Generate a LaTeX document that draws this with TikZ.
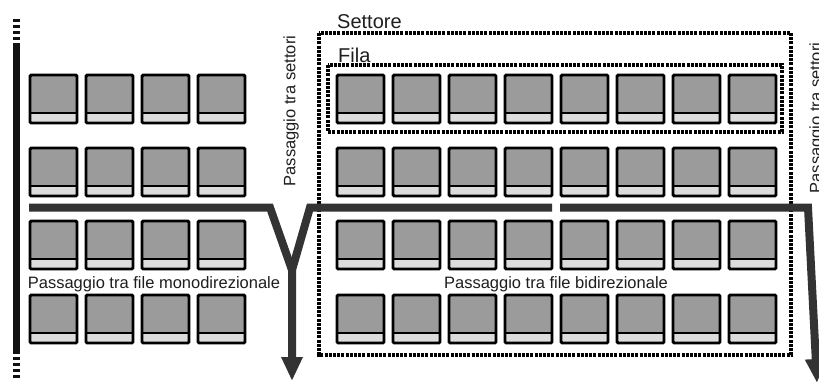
\documentclass[tikz,border=0pt]{standalone}
\usepackage{fontspec}
\setmainfont{Liberation Sans}
\usetikzlibrary{arrows.meta}
\definecolor{seatgray}{HTML}{9B9B9B}
\definecolor{seatlight}{HTML}{DCDCDC}
\definecolor{aisle}{HTML}{333333}
\definecolor{txt}{HTML}{1E1E1E}
\tikzset{
  seatfill/.style={fill=seatgray},
  seatstrip/.style={fill=seatlight},
  seatline/.style={draw=black,line width=2.9pt},
  zone/.style={draw=black,line width=3.3pt,dash pattern=on 3pt off 1.2pt},
  aislepath/.style={draw=aisle,line width=8pt},
  aislearrow/.style={draw=aisle,line width=8pt,-{Triangle[width=20pt,length=24pt]}},
  lbl/.style={text=txt,inner sep=0pt,font=\fontsize{16.5}{18}\selectfont},
  biglbl/.style={text=txt,inner sep=0pt,font=\fontsize{20}{22}\selectfont},
  seat/.pic={
    \fill[seatfill] (0,0) rectangle (47,38);
    \fill[seatstrip] (0,38) rectangle (47,48);
    \draw[seatline] (0,38) -- (47,38);
    \draw[seatline,rounded corners=1.2pt] (0,0) rectangle (47,48);
  }
}
\begin{document}
\begin{tikzpicture}[x=1pt,y=-1pt]
\useasboundingbox (0,0) rectangle (819,381);
% seats
\foreach \yy in {75,148,221,295}{
  \foreach \xx in {30,86,142,198}{
    \pic at (\xx,\yy) {seat};
  }
  \foreach \xx in {337,393,449,505,561,617,673,729}{
    \pic at (\xx,\yy) {seat};
  }
}
% zones
\draw[zone] (319,33) rectangle (791,355);
\draw[zone] (328,65) rectangle (782,132);
\node[biglbl,anchor=base west] (settore) at (337,28) {Settore};
\node[biglbl,anchor=base west] (fila) at (338,62) {Fila};
% left wall
\draw[black!93,line width=7pt] (16.5,45) -- (16.5,354);
\draw[black!93,line width=7pt,dash pattern=on 3pt off 3pt] (16.5,19) -- (16.5,45);
\draw[black!93,line width=7pt,dash pattern=on 3pt off 3pt] (16.5,357) -- (16.5,381);
% aisles
\coordinate (a1) at (29,207.5);
\coordinate (c1) at (270,207.5);
\coordinate (y1) at (292,270);
\coordinate (t1) at (292,381);
\coordinate (a2) at (552,207.5);
\coordinate (c2) at (310,207.5);
\coordinate (a3) at (560,207.5);
\coordinate (c3) at (808,207.5);
\coordinate (t3) at (817,383);
\draw[aislepath] (a2) -- (c2) -- (y1);
\draw[aislearrow] (a1) -- (c1) -- (y1) -- (t1);
\draw[aislearrow] (a3) -- (c3) -- (t3);
% labels
\node[lbl,rotate=90] (ps1) at (291,111) {Passaggio tra settori};
\node[lbl,rotate=90] (ps2) at (817,118) {Passaggio tra settori};
\node[lbl,anchor=base] (mono) at (154,288) {Passaggio tra file monodirezionale};
\node[lbl,anchor=base] (bidi) at (556,288) {Passaggio tra file bidirezionale};
\end{tikzpicture}
\end{document}
